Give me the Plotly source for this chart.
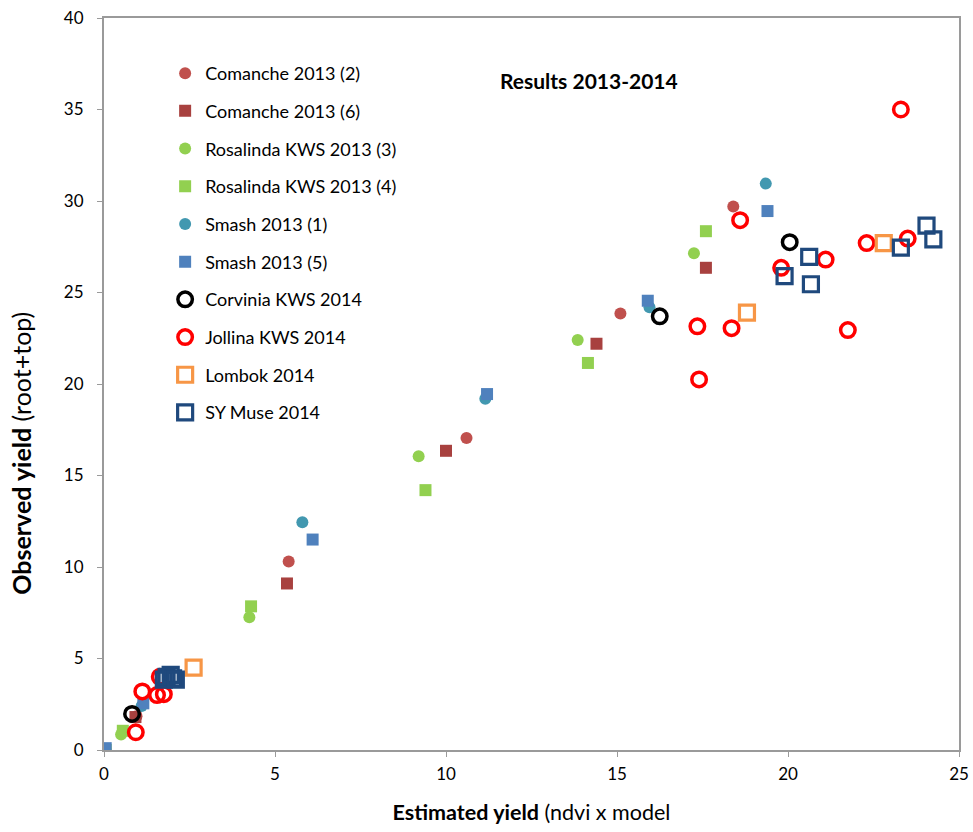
import plotly.graph_objects as go

# Estimated yield (x) vs observed yield (y) per variety / field
comanche2_x = [18.4, 15.1, 10.6, 5.4, 0.95]
comanche2_y = [29.7, 23.85, 17.05, 10.3, 1.85]

comanche6_x = [17.6, 14.4, 10.0, 5.35, 0.92]
comanche6_y = [26.35, 22.2, 16.35, 9.1, 1.8]

rosalinda3_x = [17.25, 13.85, 9.2, 4.25, 0.5, 0.05]
rosalinda3_y = [27.15, 22.4, 16.05, 7.25, 0.85, 0.0]

rosalinda4_x = [17.6, 14.15, 9.4, 4.3, 0.55, 0.05]
rosalinda4_y = [28.35, 21.15, 14.2, 7.85, 1.05, 0.0]

smash1_x = [19.35, 15.95, 11.15, 5.8, 1.1]
smash1_y = [30.95, 24.2, 19.2, 12.45, 2.4]

smash5_x = [19.4, 15.9, 11.2, 6.1, 1.15, 0.05]
smash5_y = [29.45, 24.55, 19.45, 11.5, 2.55, 0.1]

corvinia_x = [20.05, 16.25, 0.82]
corvinia_y = [27.75, 23.7, 1.97]

jollina_x = [23.3, 18.6, 17.35, 17.4, 18.35, 19.8, 21.1, 21.75, 22.3, 23.5, 1.12, 0.93, 1.55, 1.75, 1.63]
jollina_y = [35.0, 28.95, 23.15, 20.25, 23.05, 26.35, 26.8, 22.95, 27.7, 27.95, 3.2, 0.97, 3.0, 3.05, 4.0]

lombok_x = [22.8, 18.8, 2.62]
lombok_y = [27.7, 23.9, 4.5]

symuse_x = [19.9, 20.62, 20.67, 23.3, 24.05, 24.25, 1.83, 2.02, 1.75, 1.95, 2.1]
symuse_y = [25.9, 26.95, 25.45, 27.45, 28.65, 27.9, 4.0, 3.92, 3.85, 4.1, 3.85]

FONT = "Lato"

series = [
    ("Comanche 2013 (2)", comanche2_x, comanche2_y, "circle", 12, "#C0504D", None),
    ("Comanche 2013 (6)", comanche6_x, comanche6_y, "square", 12, "#A8413F", None),
    ("Rosalinda KWS 2013 (3)", rosalinda3_x, rosalinda3_y, "circle", 12, "#92D050", None),
    ("Rosalinda KWS 2013 (4)", rosalinda4_x, rosalinda4_y, "square", 12, "#92D050", None),
    ("Smash 2013 (1)", smash1_x, smash1_y, "circle", 12, "#4298B0", None),
    ("Smash 2013 (5)", smash5_x, smash5_y, "square", 12, "#4F81BD", None),
    ("Corvinia KWS 2014", corvinia_x, corvinia_y, "circle-open", 14.5, "#000000", 3.5),
    ("Jollina KWS 2014", jollina_x, jollina_y, "circle-open", 14.5, "#FF0000", 3.5),
    ("Lombok 2014", lombok_x, lombok_y, "square-open", 15, "#F79646", 3.2),
    ("SY Muse 2014", symuse_x, symuse_y, "square-open", 15, "#1F497D", 3.2),
]

fig = go.Figure()
for i, (name, xs, ys, sym, size, color, lw) in enumerate(series):
    marker = dict(symbol=sym, size=size, color=color)
    if lw is not None:
        marker["line"] = dict(color=color, width=lw)
    else:
        marker["line"] = dict(width=0)
    fig.add_trace(go.Scatter(
        x=xs, y=ys, mode="markers", name=name, marker=marker,
        legendgroup=f"g{i}",
    ))

axis_common = dict(
    showgrid=False, zeroline=False, automargin=False,
    showline=True, linecolor="#9A9A9A", linewidth=2, mirror=True,
    ticks="outside", ticklen=5, tickcolor="#9A9A9A", tickwidth=1,
    tickfont=dict(family=FONT, size=17, color="#000000"),
)

fig.update_xaxes(
    range=[0, 25], dtick=5, ticklabelstandoff=3, **axis_common,
    title=dict(text="<b>Estimated yield</b> (ndvi x model",
               font=dict(family=FONT, size=21.5, color="#000000"), standoff=22),
)
fig.update_yaxes(range=[0, 40], dtick=5, ticklabelstandoff=10, **axis_common)

# y-axis title sits below the vertical centre of the plot
fig.add_annotation(
    text="<b>Observed yield</b> (root+top)", xref="paper", yref="paper",
    x=-0.098, y=0.405, xanchor="center", yanchor="middle", showarrow=False,
    textangle=-90, font=dict(family=FONT, size=25, color="#000000"),
)

fig.add_annotation(
    text="<b>Results 2013-2014</b>", xref="paper", yref="paper",
    x=0.567, y=0.914, xanchor="center", yanchor="middle", showarrow=False,
    font=dict(family=FONT, size=21, color="#000000"),
)

fig.update_layout(
    width=973, height=832,
    margin=dict(l=104, r=14, t=18, b=82),
    paper_bgcolor="white", plot_bgcolor="white",
    font=dict(family=FONT, color="#000000"),
    legend=dict(
        x=0.0715, y=0.9495, xanchor="left", yanchor="top",
        bgcolor="rgba(0,0,0,0)", borderwidth=0,
        font=dict(family=FONT, size=18, color="#000000"),
        tracegroupgap=11.3, itemsizing="trace",
    ),
)

fig.write_html("out.html")
